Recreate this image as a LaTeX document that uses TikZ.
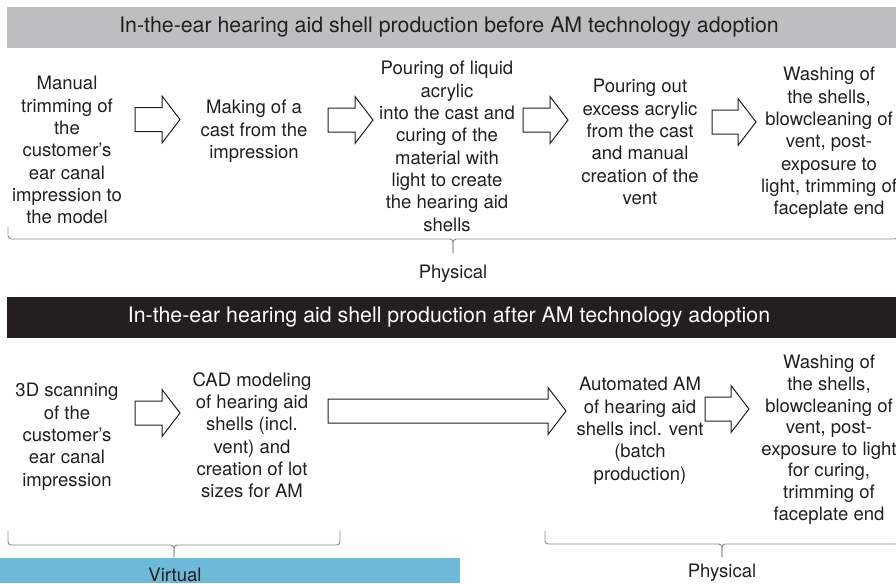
\documentclass[tikz,border=0pt]{standalone}
\usepackage{fontspec}
\setmainfont{TeX Gyre Heros}
\usetikzlibrary{
    arrows.meta,    % For arrow styles
    positioning     % For relative positioning of nodes
}
\definecolor{bargray}{RGB}{190,190,192}
\definecolor{barblack}{RGB}{35,31,32}
\definecolor{barblue}{RGB}{111,185,216}
\definecolor{inkgray}{RGB}{35,31,32}
\definecolor{bracegray}{RGB}{140,140,142}
\tikzset{
    % Style for the process step texts
    stepbox/.style={
        anchor=north,
        align=center,
        inner sep=0pt,
        text=inkgray,
        font=\fontsize{13.9}{16.75}\selectfont
    },
    % Style for the banner titles
    banner/.style={
        align=center,
        inner sep=0pt,
        font=\fontsize{16}{19}\selectfont
    },
    % Style for the brace labels
    phase/.style={
        anchor=base,
        inner sep=0pt,
        text=inkgray,
        font=\fontsize{13.9}{16.75}\selectfont
    },
    % Style for the brace lines
    bracket/.style={
        draw=bracegray,
        line width=0.7pt,
        rounded corners=2.5pt
    },
    % Outlined block arrow, #1 = length
    blockarrow/.pic={
        \draw[line width=0.75pt, draw=inkgray, fill=white, line join=miter]
            (0,-12) -- (#1-18,-12) -- (#1-18,-23.5) -- (#1,0)
            -- (#1-18,23.5) -- (#1-18,12) -- (0,12) -- cycle;
    }
}

\begin{document}
\begin{tikzpicture}[x=0.75pt, y=-0.75pt]
    \useasboundingbox (0,0) rectangle (896,583);

    % --- Banners ---
    \fill[bargray]  (7,7)   rectangle (896,48);
    \fill[barblack] (7,297) rectangle (896,338);
    \fill[barblue]  (0,558) rectangle (460,583);
    \node (titlebefore) [banner, text=inkgray] at (449,27.5)
        {In-the-ear hearing aid shell production before AM technology adoption};
    \node (titleafter)  [banner, text=white]   at (449,317.5)
        {In-the-ear hearing aid shell production after AM technology adoption};

    % --- Before AM adoption ---
    \node (manualtrim) [stepbox] at (67,76)
        {Manual\\trimming of\\the\\customer's\\ear canal\\impression to\\the model};
    \node (makecast)   [stepbox] at (254,100)
        {Making of a\\cast from the\\impression};
    \node (pourliquid) [stepbox] at (447,61)
        {Pouring of liquid\\acrylic\\into the cast and\\curing of the\\material with\\light to create\\the hearing aid\\shells};
    \node (pourout)    [stepbox] at (640,79)
        {Pouring out\\excess acrylic\\from the cast\\and manual\\creation of the\\vent};
    \node (washbefore) [stepbox] at (829,67)
        {Washing of\\the shells,\\blowcleaning of\\vent, post-\\exposure to\\light, trimming of\\faceplate end};
    % Arrows
    \pic at (135,119.5) {blockarrow=45};
    \pic at (328,120)   {blockarrow=45};
    \pic at (523,120)   {blockarrow=45};
    \pic at (712,122)   {blockarrow=44};

    % Brace
    \draw[bracket] (8,227) -- (8,239) -- (453,239) -- (453,253);
    \draw[bracket] (453,253) -- (453,239) -- (898,239) -- (898,227);
    \node (physbefore) [phase] at (453,278) {Physical};

    % --- After AM adoption ---
    \node (scan3d)      [stepbox] at (67,383)
        {3D scanning\\of the\\customer's\\ear canal\\impression};
    \node (cadmodel)    [stepbox] at (252,372)
        {CAD modeling\\of hearing aid\\shells (incl.\\vent) and\\creation of lot\\sizes for AM};
    \node (automatedam) [stepbox] at (640,377)
        {Automated AM\\of hearing aid\\shells incl. vent\\(batch\\production)};
    \node (washafter)   [stepbox, font=\fontsize{13.9}{16.2}\selectfont] at (829,355)
        {Washing of\\the shells,\\blowcleaning of\\vent, post-\\exposure to light\\for curing,\\trimming of\\faceplate end};
    % Arrows
    \pic at (135,413) {blockarrow=45};
    \pic at (328,411) {blockarrow=238};
    \pic at (705,409) {blockarrow=44};

    % Braces
    \draw[bracket] (8,531) -- (8,545) -- (174,545) -- (174,557);
    \draw[bracket] (174,557) -- (174,545) -- (340,545) -- (340,531);
    \draw[bracket] (545,531) -- (545,544) -- (722,544) -- (722,557);
    \draw[bracket] (722,557) -- (722,544) -- (899,544) -- (899,531);
    \node (virtual)   [phase] at (175,581) {Virtual};
    \node (physafter) [phase] at (722,577) {Physical};

\end{tikzpicture}
\end{document}
